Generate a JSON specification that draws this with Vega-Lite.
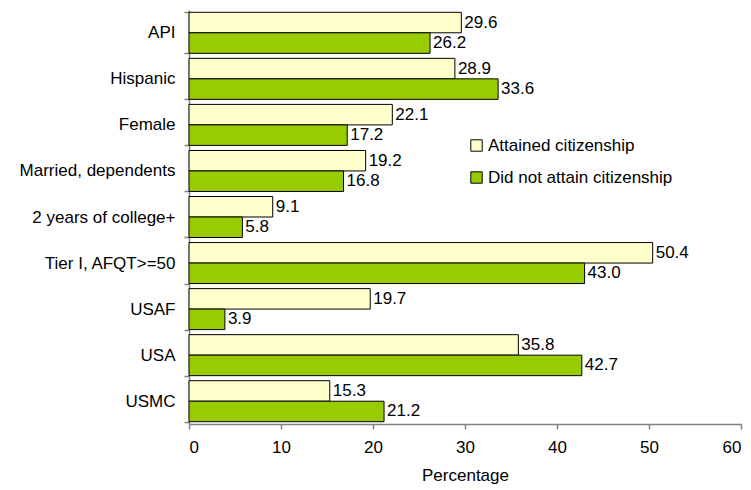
{
  "$schema": "https://vega.github.io/schema/vega-lite/v6.json",
  "autosize": {"type": "none"},
  "padding": {"left": 189, "top": 10, "right": 10, "bottom": 66},
  "width": 552,
  "height": 414,
  "config": {
    "view": {"stroke": null},
    "font": "Liberation Sans",
    "axis": {"grid": false, "domainColor": "#808080", "tickColor": "#808080", "labelColor": "#000000", "titleColor": "#000000", "labelFontSize": 17, "titleFontSize": 17, "titleFontWeight": "normal", "labelFont": "Liberation Sans", "titleFont": "Liberation Sans"}
  },
  "data": {
    "values": [
      {"group": "API", "status": "Attained citizenship", "pct": 29.6},
      {"group": "API", "status": "Did not attain citizenship", "pct": 26.2},
      {"group": "Hispanic", "status": "Attained citizenship", "pct": 28.9},
      {"group": "Hispanic", "status": "Did not attain citizenship", "pct": 33.6},
      {"group": "Female", "status": "Attained citizenship", "pct": 22.1},
      {"group": "Female", "status": "Did not attain citizenship", "pct": 17.2},
      {"group": "Married, dependents", "status": "Attained citizenship", "pct": 19.2},
      {"group": "Married, dependents", "status": "Did not attain citizenship", "pct": 16.8},
      {"group": "2 years of college+", "status": "Attained citizenship", "pct": 9.1},
      {"group": "2 years of college+", "status": "Did not attain citizenship", "pct": 5.8},
      {"group": "Tier I, AFQT>=50", "status": "Attained citizenship", "pct": 50.4},
      {"group": "Tier I, AFQT>=50", "status": "Did not attain citizenship", "pct": 43.0},
      {"group": "USAF", "status": "Attained citizenship", "pct": 19.7},
      {"group": "USAF", "status": "Did not attain citizenship", "pct": 3.9},
      {"group": "USA", "status": "Attained citizenship", "pct": 35.8},
      {"group": "USA", "status": "Did not attain citizenship", "pct": 42.7},
      {"group": "USMC", "status": "Attained citizenship", "pct": 15.3},
      {"group": "USMC", "status": "Did not attain citizenship", "pct": 21.2}
    ]
  },
  "encoding": {
    "y": {
      "field": "group", "type": "nominal", "sort": null,
      "scale": {"paddingInner": 0.11, "paddingOuter": 0.05},
      "axis": {"title": null, "tickBand": "extent", "tickSize": 5, "labelPadding": 9, "domainWidth": 1.5, "tickWidth": 1.5}
    },
    "yOffset": {
      "field": "status", "type": "nominal", "sort": ["Attained citizenship", "Did not attain citizenship"],
      "scale": {"paddingInner": 0, "paddingOuter": 0}
    },
    "x": {
      "field": "pct", "type": "quantitative",
      "scale": {"domain": [0, 60], "nice": false},
      "axis": {"title": "Percentage", "values": [0, 10, 20, 30, 40, 50, 60], "tickSize": 5, "labelPadding": 10, "titlePadding": 12, "domainWidth": 1.5, "tickWidth": 1.5}
    }
  },
  "layer": [
    {
      "mark": {"type": "bar", "stroke": "#000000", "strokeWidth": 1},
      "encoding": {
        "color": {
          "field": "status", "type": "nominal",
          "scale": {"domain": ["Attained citizenship", "Did not attain citizenship"], "range": ["#FFFFCC", "#99CC00"]},
          "legend": {
            "title": null, "orient": "none", "legendX": 279, "legendY": 127,
            "symbolType": "square", "symbolSize": 130, "symbolStrokeColor": "#000000", "symbolStrokeWidth": 1,
            "labelFontSize": 17, "labelFont": "Liberation Sans", "labelColor": "#000000", "labelLimit": 0, "rowPadding": 14, "labelOffset": 3
          }
        }
      }
    },
    {
      "mark": {"type": "text", "align": "left", "baseline": "middle", "dx": 3, "fontSize": 17, "font": "Liberation Sans", "color": "#000000"},
      "encoding": {
        "text": {"field": "pct", "type": "quantitative", "format": ".1f"}
      }
    }
  ]
}
